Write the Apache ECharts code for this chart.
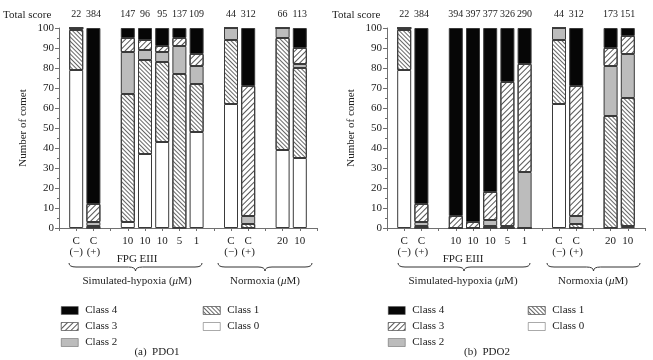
<!DOCTYPE html>
<html>
<head>
<meta charset="utf-8">
<script src="https://cdn.jsdelivr.net/npm/echarts@6/dist/echarts.min.js"></script>
<style>
  html, body { margin: 0; padding: 0; background: #fff; }
  #chart { width: 653px; height: 360px; }
</style>
</head>
<body>
<div id="chart"></div>
<script>
// bar labels (one per bar) and where the empty slots go
const labels = ['C\n(−)', 'C\n(+)', '10', '10', '10', '5', '1', 'C\n(−)', 'C\n(+)', '20', '10']
const gapAfter = [1, 6, 8] // blank slot after these bar indexes

// total score above each bar
const totalPDO1 = ['22', '384', '147', '96', '95', '137', '109', '44', '312', '66', '113']
const totalPDO2 = ['22', '384', '394', '397', '377', '326', '290', '44', '312', '173', '151']

// percentage per class, PDO1
const p1Class0 = [79, 0, 3, 37, 43, 0, 48, 62, 0, 39, 35]
const p1Class1 = [20, 1, 64, 47, 40, 77, 24, 32, 2, 56, 45]
const p1Class2 = [1, 2, 21, 5, 5, 14, 9, 6, 4, 5, 2]
const p1Class3 = [0, 9, 7, 5, 3, 4, 6, 0, 65, 0, 8]
const p1Class4 = [0, 88, 5, 6, 9, 5, 13, 0, 29, 0, 10]

// percentage per class, PDO2
const p2Class0 = [79, 0, 0, 0, 0, 0, 0, 62, 0, 0, 1]
const p2Class1 = [20, 1, 0, 0, 1, 0, 0, 32, 2, 56, 64]
const p2Class2 = [1, 2, 0, 0, 3, 1, 28, 6, 4, 25, 22]
const p2Class3 = [0, 9, 6, 3, 14, 72, 54, 0, 65, 9, 9]
const p2Class4 = [0, 88, 94, 97, 82, 27, 18, 0, 29, 10, 4]

const yTicks = { min: 0, max: 100, interval: 10 }

const FONT = 'Liberation Serif'
const AXIS = '#707070'
const EDGE = '#3a3a3a'

// spread bar values over the slots (blank slot at start, between groups, at end)
function toSlots(arr, blank) {
  const out = [blank]
  arr.forEach((v, i) => {
    out.push(v)
    if (gapAfter.indexOf(i) > -1) out.push(blank)
  })
  out.push(blank)
  return out
}

const classStyle = {
  'Class 0': { color: '#fff' },
  'Class 1': {
    color: '#fff',
    decal: { symbol: 'rect', symbolSize: 1, color: '#666', dashArrayX: [1, 0], dashArrayY: [1, 2], rotation: Math.PI / 4 }
  },
  'Class 2': { color: '#bcbcbc' },
  'Class 3': {
    color: '#fff',
    decal: { symbol: 'rect', symbolSize: 1, color: '#555', dashArrayX: [1, 0], dashArrayY: [1, 3], rotation: -Math.PI / 4 }
  },
  'Class 4': { color: '#060606' }
}

function makeSeries(classes, idx) {
  const names = ['Class 0', 'Class 1', 'Class 2', 'Class 3', 'Class 4']
  return classes.map((arr, i) => ({
    name: names[i],
    type: 'bar',
    stack: 'g' + idx,
    xAxisIndex: idx * 2,
    yAxisIndex: idx,
    barWidth: 14,
    data: toSlots(arr, '-'),
    itemStyle: { ...classStyle[names[i]], borderColor: EDGE, borderWidth: 1 },
    emphasis: { disabled: true }
  }))
}

function bottomAxis(grid) {
  return {
    type: 'category',
    gridIndex: grid,
    boundaryGap: false,
    data: toSlots(labels, ''),
    axisLine: { lineStyle: { color: AXIS } },
    axisTick: { show: true, length: 3, interval: 0, lineStyle: { color: AXIS } },
    axisLabel: { interval: 0, margin: 8, color: '#222', fontFamily: FONT, fontSize: 11, lineHeight: 11 }
  }
}

function topAxis(grid, totals) {
  return {
    type: 'category',
    gridIndex: grid,
    position: 'top',
    boundaryGap: false,
    data: toSlots(totals, ''),
    axisLine: { show: false },
    axisTick: { show: false },
    axisLabel: { interval: 0, margin: 9, color: '#222', fontFamily: FONT, fontSize: 10, hideOverlap: false }
  }
}

function leftAxis(grid) {
  return {
    type: 'value',
    gridIndex: grid,
    ...yTicks,
    name: 'Number of comet',
    nameLocation: 'middle',
    nameGap: 30,
    nameTextStyle: { color: '#222', fontFamily: FONT, fontSize: 11 },
    axisLine: { show: true, lineStyle: { color: AXIS } },
    axisTick: { show: true, length: 4, lineStyle: { color: AXIS } },
    minorTick: { show: true, splitNumber: 2, length: 2, lineStyle: { color: AXIS } },
    splitLine: { show: false },
    axisLabel: { margin: 5, color: '#222', fontFamily: FONT, fontSize: 11 }
  }
}

// curly brace under a group, drawn as curves
function brace(x1, x2, y) {
  const xm = (x1 + x2) / 2
  const s = { stroke: '#333', lineWidth: 1, fill: null }
  return [
    { type: 'bezierCurve', shape: { x1: x1, y1: y, cpx1: x1, cpy1: y + 4, x2: x1 + 7, y2: y + 4 }, style: s },
    { type: 'line', shape: { x1: x1 + 7, y1: y + 4, x2: xm - 7, y2: y + 4 }, style: s },
    { type: 'bezierCurve', shape: { x1: xm - 7, y1: y + 4, cpx1: xm, cpy1: y + 4, x2: xm, y2: y + 8 }, style: s },
    { type: 'bezierCurve', shape: { x1: xm, y1: y + 8, cpx1: xm, cpy1: y + 4, x2: xm + 7, y2: y + 4 }, style: s },
    { type: 'line', shape: { x1: xm + 7, y1: y + 4, x2: x2 - 7, y2: y + 4 }, style: s },
    { type: 'bezierCurve', shape: { x1: x2 - 7, y1: y + 4, cpx1: x2, cpy1: y + 4, x2: x2, y2: y }, style: s }
  ]
}

function txt(text, x, y, align, rich) {
  return {
    type: 'text',
    x: x,
    y: y,
    style: {
      text: text,
      align: align || 'center',
      verticalAlign: 'middle',
      fill: '#222',
      font: '11px "' + FONT + '"',
      rich: rich
    }
  }
}

const muRich = { it: { fontStyle: 'italic', fontFamily: FONT, fontSize: 11, fill: '#222' } }

function legend(names, left) {
  return {
    data: names,
    orient: 'vertical',
    left: left,
    top: 300,
    itemWidth: 17,
    itemHeight: 8,
    itemGap: 5,
    selectedMode: false,
    icon: 'rect',
    itemStyle: { borderWidth: 0.5, borderColor: '#555' },
    textStyle: { color: '#222', fontFamily: FONT, fontSize: 11, padding: [0, 0, 0, 2] }
  }
}

const myChart = echarts.init(document.getElementById('chart'))
myChart.setOption({
  animation: false,
  grid: [
    { left: 59, top: 28, width: 258, height: 200 },
    { left: 387, top: 28, width: 258, height: 200 }
  ],
  xAxis: [bottomAxis(0), topAxis(0, totalPDO1), bottomAxis(1), topAxis(1, totalPDO2)],
  yAxis: [leftAxis(0), leftAxis(1)],
  legend: [
    legend(['Class 4', 'Class 3', 'Class 2'], 56),
    legend(['Class 1', 'Class 0'], 198),
    legend(['Class 4', 'Class 3', 'Class 2'], 383),
    legend(['Class 1', 'Class 0'], 523)
  ],
  graphic: [
    txt('Total score', 3, 15, 'left'),
    txt('Total score', 332, 15, 'left'),
    txt('FPG EIII', 137, 259),
    txt('FPG EIII', 463, 259),
    ...brace(69, 202, 263),
    ...brace(218, 312, 263),
    ...brace(398, 530, 263),
    ...brace(547, 640, 263),
    txt('Simulated-hypoxia ({it|μ}M)', 137, 281, 'center', muRich),
    txt('Normoxia ({it|μ}M)', 265, 281, 'center', muRich),
    txt('Simulated-hypoxia ({it|μ}M)', 463, 281, 'center', muRich),
    txt('Normoxia ({it|μ}M)', 593, 281, 'center', muRich),
    txt('(a)  PDO1', 157, 352),
    txt('(b)  PDO2', 487, 352)
  ],
  series: [
    ...makeSeries([p1Class0, p1Class1, p1Class2, p1Class3, p1Class4], 0),
    ...makeSeries([p2Class0, p2Class1, p2Class2, p2Class3, p2Class4], 1)
  ]
})
</script>
</body>
</html>
